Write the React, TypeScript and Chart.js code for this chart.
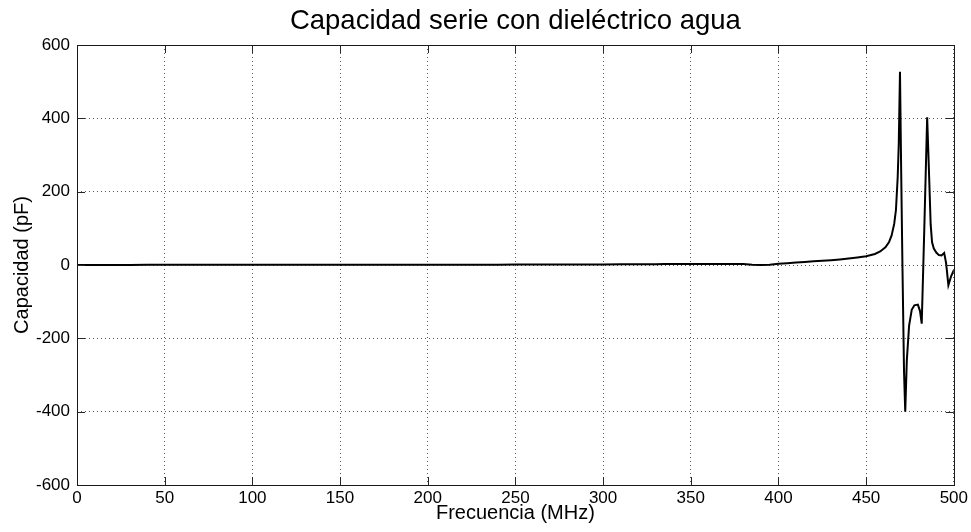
import React, { useEffect, useRef } from "react";
import { Chart, registerables } from "chart.js";

Chart.register(...registerables);

const chartTitle = "Capacidad serie con dieléctrico agua";
const xAxisLabel = "Frecuencia (MHz)";
const yAxisLabel = "Capacidad (pF)";

const freqMHz = [
  0, 10, 20, 30, 40, 50, 60, 70, 80, 90, 100, 110, 120, 130, 140, 150, 160, 170, 180, 190, 200,
  210, 220, 230, 240, 250, 260, 270, 280, 290, 300, 310, 320, 330, 335, 340, 350, 360, 370, 380,
  385, 390, 395, 400, 405, 410, 415, 420, 425, 430, 435, 440, 445, 450, 455, 458, 461, 463, 464.5,
  466, 467, 468, 468.6, 469.3, 470, 470.7, 471.6, 472.3, 473.2, 474.5, 476, 477.5, 479.5, 480.7,
  481.7, 483.2, 484.8, 485.8, 486.8, 487.6, 488.6, 490, 491.5, 493, 494.5, 495.6, 496.9, 498.5, 500,
];

const capacidadPF = [
  0.3, 0.3, 0.3, 0.3, 0.4, 0.4, 0.4, 0.4, 0.4, 0.5, 0.5, 0.5, 0.5, 0.6, 0.6, 0.6, 0.7, 0.7, 0.7, 0.8, 0.8,
  0.9, 0.9, 1.0, 1.0, 1.1, 1.2, 1.3, 1.4, 1.5, 1.6, 1.8, 1.9, 2.0, 2.5, 2.6, 2.8, 3.0, 3.0, 2.5,
  0.5, 0.2, 1.0, 3.5, 5, 7, 8.5, 10, 11.5, 13, 15, 17.5, 20.5, 24, 30, 37, 48, 62, 80,
  112, 150, 240, 330, 527, 250, 0, -290, -400, -260, -165, -122, -110, -108, -125,
  -160, 105, 403, 260, 110, 62, 45, 34, 27, 26, 33, 5, -55, -30, -14,
];

const xTicks = [0, 50, 100, 150, 200, 250, 300, 350, 400, 450, 500];
const yTicks = [-600, -400, -200, 0, 200, 400, 600];

const FONT = '"Liberation Sans", Arial, Helvetica, sans-serif';

const boxPlugin = {
  id: "matlabBox",
  afterDraw(chart: any) {
    const { ctx, chartArea, scales } = chart;
    const { left, right, top, bottom } = chartArea;
    ctx.save();
    ctx.strokeStyle = "#262626";
    ctx.lineWidth = 1;
    const tl = 8;
    ctx.beginPath();
    for (const v of xTicks) {
      const px = Math.round(scales.x.getPixelForValue(v)) + 0.5;
      ctx.moveTo(px, bottom);
      ctx.lineTo(px, bottom - tl);
      ctx.moveTo(px, top);
      ctx.lineTo(px, top + tl);
    }
    for (const v of yTicks) {
      const py = Math.round(scales.y.getPixelForValue(v)) + 0.5;
      ctx.moveTo(left, py);
      ctx.lineTo(left + tl, py);
      ctx.moveTo(right, py);
      ctx.lineTo(right - tl, py);
    }
    ctx.stroke();
    ctx.strokeStyle = "#1a1a1a";
    ctx.strokeRect(Math.round(left) + 0.5, Math.round(top) + 0.5, Math.round(right - left), Math.round(bottom - top));
    ctx.restore();
  },
};

export default function App() {
  const ref = useRef<HTMLCanvasElement | null>(null);

  useEffect(() => {
    if (!ref.current) return;
    const points = freqMHz.map((f, i) => ({ x: f, y: capacidadPF[i] }));
    const chart = new Chart(ref.current, {
      type: "line",
      data: {
        datasets: [
          {
            data: points,
            borderColor: "#000000",
            borderWidth: 2,
            pointRadius: 0,
            tension: 0,
            fill: false,
          },
        ],
      },
      options: {
        animation: false,
        responsive: false,
        devicePixelRatio: 1,
        layout: { padding: { left: 0, right: 16, top: 0, bottom: 0 } },
        plugins: {
          legend: { display: false },
          tooltip: { enabled: false },
          title: {
            display: true,
            fullSize: false,
            text: chartTitle,
            color: "#000",
            font: { family: FONT, size: 27.5, weight: "normal", lineHeight: 1.2 },
            padding: { top: 5, bottom: 7 },
          },
        },
        scales: {
          x: {
            type: "linear",
            min: 0,
            max: 500,
            afterBuildTicks: (scale: any) => {
              scale.ticks = xTicks.map((v) => ({ value: v }));
            },
            afterFit: (scale: any) => {
              scale.height = 47;
            },
            ticks: {
              color: "#000",
              font: { family: FONT, size: 17 },
              padding: 3,
              maxRotation: 0,
              autoSkip: false,
            },
            grid: {
              color: "rgba(0,0,0,0.65)",
              lineWidth: 1,
              drawTicks: false,
            },
            border: { display: false, dash: [1, 3] },
            title: {
              display: true,
              text: xAxisLabel,
              color: "#000",
              font: { family: FONT, size: 20, lineHeight: 1.2 },
              padding: { top: 0, bottom: 7 },
            },
          },
          y: {
            type: "linear",
            min: -600,
            max: 600,
            afterBuildTicks: (scale: any) => {
              scale.ticks = yTicks.map((v) => ({ value: v }));
            },
            afterFit: (scale: any) => {
              scale.width = 77;
            },
            ticks: {
              color: "#000",
              font: { family: FONT, size: 17 },
              padding: 7,
              autoSkip: false,
            },
            grid: {
              color: "rgba(0,0,0,0.65)",
              lineWidth: 1,
              drawTicks: false,
            },
            border: { display: false, dash: [1, 3] },
            title: {
              display: true,
              text: yAxisLabel,
              color: "#000",
              font: { family: FONT, size: 20, lineHeight: 1.2 },
              padding: { top: 10, bottom: 0 },
            },
          },
        },
      },
      plugins: [boxPlugin],
    } as any);
    return () => chart.destroy();
  }, []);

  return (
    <div style={{ position: "absolute", left: 0, top: 0, width: 971, height: 532, background: "#fff" }}>
      <canvas ref={ref} width={971} height={532} style={{ display: "block", width: 971, height: 532 }} />
    </div>
  );
}
